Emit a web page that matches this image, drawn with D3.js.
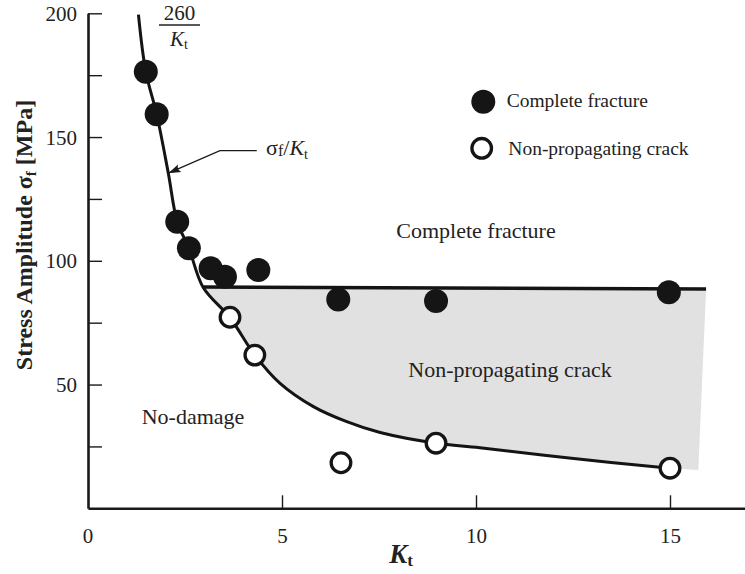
<!DOCTYPE html>
<html>
<head>
<meta charset="utf-8">
<script src="https://cdn.jsdelivr.net/npm/d3@7/dist/d3.min.js"></script>
<style>
  html, body { margin: 0; padding: 0; background: #fff; }
  svg { display: block; }
  text { font-family: "Liberation Serif", "Times New Roman", serif; fill: #222; }
</style>
</head>
<body>
<svg id="chart" width="745" height="574"></svg>
<script>
// Specimens that broke completely
const fractureKt     = [1.49, 1.77, 2.30, 2.60, 3.16, 3.53, 4.39, 6.45, 8.97, 14.97];
const fractureStress = [176.4, 159.2, 115.8, 105.1, 97.0, 93.6, 96.3, 84.4, 83.8, 87.3];

// Specimens with non-propagating cracks
const crackKt     = [3.66, 4.30, 6.52, 8.97, 15.0];
const crackStress = [77.2, 61.9, 18.4, 26.3, 16.2];

// Fatigue limit curve sigma_f / Kt
const curveKt     = [1.30, 1.49, 1.77, 2.07, 2.30, 2.60, 2.97, 3.66, 4.30, 4.95, 5.81, 6.67, 7.53, 8.97, 10.1, 12.4, 15.0];
const curveStress = [199.5, 176.4, 159.2, 135.4, 115.8, 105.1, 89.2, 77.0, 61.9, 50.5, 41.1, 35.0, 30.6, 26.3, 24.5, 20.3, 16.2];

// Crack-propagation threshold
const thresholdKt     = [2.99, 15.93];
const thresholdStress = [89.4, 88.6];

// Lower-right corner of the non-propagating band
const bandCornerKt = 15.73, bandCornerStress = 15.5;

// Axis ticks
const xTickValues = [5, 10, 15];
const xTickLabels = ["5", "10", "15"];
const yTickValues = [25, 50, 75, 100, 125, 150, 175, 200];
const yTickLabels = ["", "50", "", "100", "", "150", "", "200"];

const svg = d3.select("#chart");
const x = d3.scaleLinear().domain([0, 17]).range([88, 747.6]);
const y = d3.scaleLinear().domain([0, 200]).range([508.3, 13.3]);

const curvePts = curveKt.map((k, i) => [k, curveStress[i]]);
const smooth = d3.line().x(d => x(d[0])).y(d => y(d[1])).curve(d3.curveCatmullRom);

// Shaded non-propagating region: threshold line on top, fatigue curve below
const startIdx = curvePts.findIndex(p => p[0] >= 2.97);
const lowerEdge = curvePts.slice(startIdx).reverse();
const sampled = (() => {
  const tmp = svg.append("path").attr("d", smooth(lowerEdge)).attr("fill", "none");
  const node = tmp.node(), L = node.getTotalLength(), out = [];
  for (let i = 0; i <= 200; i++) {
    const p = node.getPointAtLength(L * i / 200);
    out.push([x.invert(p.x), y.invert(p.y)]);
  }
  tmp.remove();
  return out;
})();
const band = [[thresholdKt[0], thresholdStress[0]], [thresholdKt[1], thresholdStress[1]], [bandCornerKt, bandCornerStress]].concat(sampled);
svg.append("path")
  .attr("d", d3.line().x(d => x(d[0])).y(d => y(d[1]))(band) + "Z")
  .attr("fill", "#e1e1e1");

// Threshold line
svg.append("path")
  .attr("d", d3.line().x(d => x(d)).y((d, i) => y(thresholdStress[i]))(thresholdKt))
  .attr("fill", "none").attr("stroke", "#141414").attr("stroke-width", 3.6);

// sigma_f / Kt curve
svg.append("path")
  .attr("d", smooth(curvePts))
  .attr("fill", "none").attr("stroke", "#141414").attr("stroke-width", 3);

// Axes
const yAxis = d3.axisLeft(y).tickValues(yTickValues)
  .tickFormat((d, i) => yTickLabels[i]).tickSizeInner(-14).tickSizeOuter(0).tickPadding(11);
const gy = svg.append("g").attr("transform", `translate(${x(0)},0)`).call(yAxis);
const xAxis = d3.axisBottom(x).tickValues(xTickValues)
  .tickFormat((d, i) => xTickLabels[i]).tickSizeInner(-13).tickSizeOuter(0).tickPadding(20);
const gx = svg.append("g").attr("transform", `translate(0,${y(0)})`).call(xAxis);
// zero label at the origin
gx.append("text").attr("x", x(0)).attr("y", 20).attr("dy", "0.71em").attr("text-anchor", "middle").text("0");

[gx, gy].forEach(g => {
  g.select(".domain").attr("stroke", "#1a1a1a").attr("stroke-width", 2.6);
  g.selectAll(".tick line").attr("stroke", "#1a1a1a").attr("stroke-width", 1.4);
  g.selectAll("text").attr("font-family", "Liberation Serif, serif").attr("font-size", 21).attr("fill", "#2a2a2a");
});
gy.selectAll(".tick text").attr("dy", "0.34em");

// Axis titles
const yt = svg.append("text")
  .attr("transform", "translate(32,235) rotate(-90)")
  .attr("text-anchor", "middle").attr("font-size", 24).attr("font-weight", "bold");
yt.append("tspan").text("Stress Amplitude σ");
yt.append("tspan").attr("font-size", 15).attr("dy", 4).text("f");
yt.append("tspan").attr("dy", -4).text(" [MPa]");

const xt = svg.append("text").attr("x", 401).attr("y", 563).attr("text-anchor", "middle")
  .attr("font-size", 27).attr("font-weight", "bold");
xt.append("tspan").attr("font-style", "italic").text("K");
xt.append("tspan").attr("font-size", 17).attr("dy", 3).text("t");

// Data points
svg.append("g").selectAll("circle").data(fractureKt).join("circle")
  .attr("cx", d => x(d)).attr("cy", (d, i) => y(fractureStress[i])).attr("r", 12).attr("fill", "#151515");
svg.append("g").selectAll("circle").data(crackKt).join("circle")
  .attr("cx", d => x(d)).attr("cy", (d, i) => y(crackStress[i])).attr("r", 9.8)
  .attr("fill", "#fff").attr("stroke", "#151515").attr("stroke-width", 3.3);

// Arrow annotation pointing at the curve
const arrowPts = [[4.35, 144.5], [3.40, 144.5], [2.07, 135.4]];
svg.append("path")
  .attr("d", d3.line().x(d => x(d[0])).y(d => y(d[1]))(arrowPts))
  .attr("fill", "none").attr("stroke", "#1a1a1a").attr("stroke-width", 1.3);
{
  const tip = [x(2.07), y(135.4)], from = [x(3.40), y(144.5)];
  const ang = Math.atan2(from[1] - tip[1], from[0] - tip[0]);
  const L = 13, W = 0.32;
  const p1 = [tip[0] + L * Math.cos(ang + W), tip[1] + L * Math.sin(ang + W)];
  const p2 = [tip[0] + L * Math.cos(ang - W), tip[1] + L * Math.sin(ang - W)];
  const pc = [tip[0] + L * 0.7 * Math.cos(ang), tip[1] + L * 0.7 * Math.sin(ang)];
  svg.append("path").attr("d", `M${tip}L${p1}Q${pc} ${p2}Z`).attr("fill", "#1a1a1a");
}
const at = svg.append("text").attr("x", x(4.59)).attr("y", y(142.7)).attr("font-size", 22);
at.append("tspan").text("σ");
at.append("tspan").attr("font-size", 16).attr("dy", 1).text("f");
at.append("tspan").attr("dy", -1).text("/");
at.append("tspan").attr("font-style", "italic").text("K");
at.append("tspan").attr("font-size", 14).attr("dy", 4).text("t");

// Fraction label 260 / Kt
svg.append("text").attr("x", 179.5).attr("y", 20).attr("text-anchor", "middle").attr("font-size", 21).text("260");
svg.append("line").attr("x1", 159).attr("x2", 200).attr("y1", 25).attr("y2", 25).attr("stroke", "#222").attr("stroke-width", 1.5);
const fk = svg.append("text").attr("x", 179).attr("y", 46).attr("text-anchor", "middle").attr("font-size", 21);
fk.append("tspan").attr("font-style", "italic").text("K");
fk.append("tspan").attr("font-size", 14).attr("dy", 3).text("t");

// Region labels
svg.append("text").attr("x", 476).attr("y", 238.3).attr("text-anchor", "middle").attr("font-size", 22).text("Complete fracture");
svg.append("text").attr("x", 510).attr("y", 376.7).attr("text-anchor", "middle").attr("font-size", 22).text("Non-propagating crack");
svg.append("text").attr("x", 193).attr("y", 424.3).attr("text-anchor", "middle").attr("font-size", 22).text("No-damage");

// Legend
const legend = svg.append("g");
legend.append("circle").attr("cx", 483.3).attr("cy", 101.7).attr("r", 12).attr("fill", "#151515");
legend.append("text").attr("x", 506.7).attr("y", 106.7).attr("font-size", 19.5).text("Complete fracture");
legend.append("circle").attr("cx", 481.7).attr("cy", 148.3).attr("r", 9.8)
  .attr("fill", "#fff").attr("stroke", "#151515").attr("stroke-width", 3.3);
legend.append("text").attr("x", 508.3).attr("y", 155).attr("font-size", 19.5).text("Non-propagating crack");
</script>
</body>
</html>
